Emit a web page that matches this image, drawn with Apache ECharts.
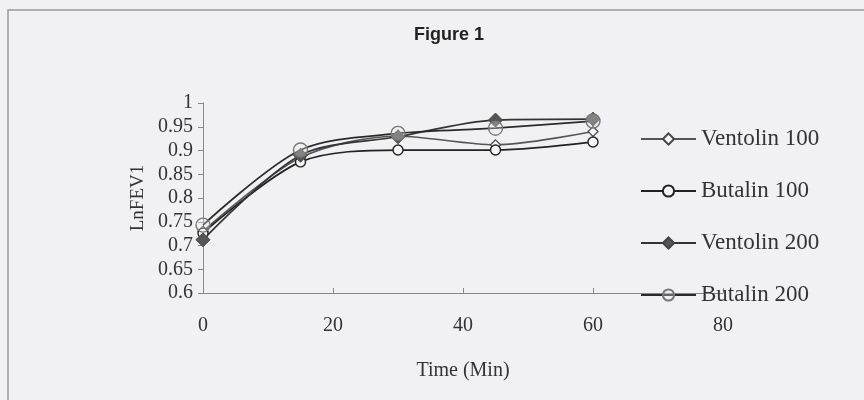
<!DOCTYPE html>
<html>
<head>
<meta charset="utf-8">
<script src="https://cdn.jsdelivr.net/npm/echarts@6/dist/echarts.min.js"></script>
<style>
  html, body { margin: 0; padding: 0; background: #f1f1f3; }
  #chart { width: 864px; height: 400px; }
</style>
</head>
<body>
<div id="chart"></div>
<script>
const times = [0, 15, 30, 45, 60]
const ventolin100 = [0.73, 0.885, 0.93, 0.912, 0.94]
const butalin100 = [0.726, 0.876, 0.901, 0.901, 0.918]
const ventolin200 = [0.712, 0.89, 0.929, 0.964, 0.966]
const butalin200 = [0.743, 0.901, 0.936, 0.947, 0.962]

const pairs = (ys) => times.map((t, i) => [t, ys[i]])
const serif = '"Liberation Serif", "Times New Roman", serif'

const chart = echarts.init(document.getElementById('chart'))

chart.setOption({
  backgroundColor: '#f1f1f3',
  animation: false,
  title: {
    text: 'Figure 1',
    left: 444,
    top: 21,
    textAlign: 'center',
    textStyle: { fontFamily: '"Liberation Sans", Arial, sans-serif', fontSize: 18, fontWeight: 'bold', color: '#222' },
  },
  graphic: [
    { type: 'rect', shape: { x: 8, y: 10, width: 900, height: 420 }, style: { fill: 'none', stroke: '#9a9a9a', lineWidth: 1.5 }, silent: true },
  ],
  grid: { left: 203, right: 141, top: 103, bottom: 107 },
  legend: {
    orient: 'vertical',
    left: 635,
    top: 122,
    itemWidth: 55,
    itemHeight: 14,
    itemGap: 28,
    textStyle: { fontFamily: serif, fontSize: 23, lineHeight: 24, color: '#333' },
    data: ['Ventolin 100', 'Butalin 100', 'Ventolin 200', 'Butalin 200'],
  },
  xAxis: {
    type: 'value',
    min: 0,
    max: 80,
    interval: 20,
    name: 'Time (Min)',
    nameLocation: 'middle',
    nameGap: 68,
    nameTextStyle: { fontFamily: serif, fontSize: 20, color: '#333' },
    axisLine: { lineStyle: { color: '#888', width: 1 } },
    axisTick: { inside: true, length: 5, lineStyle: { color: '#888' } },
    axisLabel: { fontFamily: serif, fontSize: 20, color: '#333', margin: 23 },
    splitLine: { show: false },
  },
  yAxis: {
    type: 'value',
    min: 0.6,
    max: 1,
    interval: 0.05,
    name: 'LnFEV1',
    nameLocation: 'middle',
    nameGap: 46,
    nameTextStyle: { fontFamily: serif, fontSize: 19, color: '#333' },
    axisLine: { show: true, lineStyle: { color: '#888', width: 1 } },
    axisTick: { show: true, length: 5, lineStyle: { color: '#888' } },
    axisLabel: { fontFamily: serif, fontSize: 20, color: '#333', margin: 10 },
    splitLine: { show: false },
  },
  series: [
    {
      name: 'Ventolin 100',
      type: 'line',
      data: pairs(ventolin100),
      smooth: 0.3,
      symbol: 'diamond',
      symbolSize: 10,
      lineStyle: { color: '#555', width: 1.6 },
      itemStyle: { color: '#f6f6f6', borderColor: '#444', borderWidth: 1.2 },
    },
    {
      name: 'Butalin 100',
      type: 'line',
      data: pairs(butalin100),
      smooth: 0.3,
      symbol: 'circle',
      symbolSize: 10,
      lineStyle: { color: '#222', width: 1.7 },
      itemStyle: { color: '#f6f6f6', borderColor: '#222', borderWidth: 1.4 },
    },
    {
      name: 'Ventolin 200',
      type: 'line',
      data: pairs(ventolin200),
      smooth: 0.3,
      symbol: 'diamond',
      symbolSize: 14,
      lineStyle: { color: '#333', width: 1.7 },
      itemStyle: { color: '#555', borderColor: '#444', borderWidth: 1 },
    },
    {
      name: 'Butalin 200',
      type: 'line',
      data: pairs(butalin200),
      smooth: 0.3,
      symbol: 'circle',
      symbolSize: 14,
      lineStyle: { color: '#2a2a2a', width: 1.7 },
      itemStyle: { color: 'rgba(240,240,240,0.3)', borderColor: '#777', borderWidth: 1.4 },
    },
  ],
})
</script>
</body>
</html>
